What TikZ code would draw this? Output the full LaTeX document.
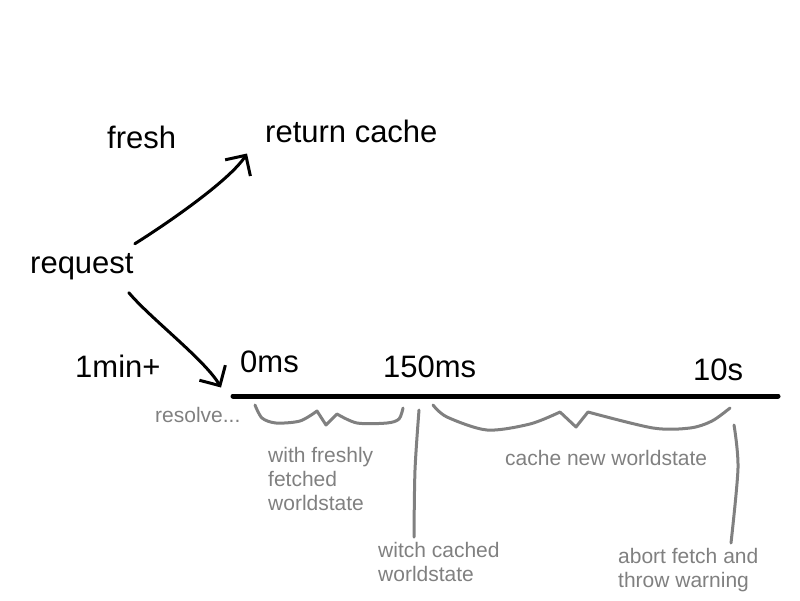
\documentclass[tikz,border=0pt]{standalone}
\usepackage{fontspec}
\setmainfont{Liberation Sans}
\usetikzlibrary{arrows.meta}
\definecolor{pencil}{RGB}{128,128,128}
\tikzset{
  big/.style={inner sep=0pt, anchor=base west, font=\fontsize{31}{31}\selectfont},
  small/.style={inner sep=0pt, text=pencil, align=left, font=\fontsize{21}{24}\selectfont},
  scribble/.style={line width=3pt, line cap=round, line join=round},
  hand/.style={scribble, -{Straight Barb[length=15pt,width=30pt,line width=3pt]}},
}
\begin{document}
\begin{tikzpicture}[x=1pt, y=-1pt]
                    \useasboundingbox (0,0) rectangle (800,600);
                    % Labels
                    \node[big] (fresh) at (107,148) {fresh};
                    \node[big] (ret) at (265,142) {return cache};
                    \node[big] (req) at (30,273) {request};
                    \node[big] (late) at (75,377) {1min+};
                    \node[big] (zero) at (240,372) {0ms};
                    \node[big] (mid) at (383,377) {150ms};
                    \node[big] (ten) at (693,380) {10s};
                    % Arrows
                    \draw[hand]
                       ([shift={(1,-9)}]req.north east)
                    .. controls (168,223) and (230,180) ..
                       ([shift={(-18,11)}]ret.south west);
                    \draw[hand]
                       ([shift={(-5,13)}]req.south east)
                    .. controls (150,318) and (205,360) ..
                       ([shift={(-19,15)}]zero.south west);
                    % Timeline
                    \draw[-, line width=5pt, line cap=round]
                       (233,396) -- (778,396);
                    % Braces
                    \draw[scribble, pencil]
                       plot[smooth, tension=0.5] coordinates {
                       (255,405) (262,418) (276,423) (300,421) (317,411)}
                    -- (326,425) -- (337,414)
                    -- plot[smooth, tension=0.5] coordinates {
                       (337,414) (357,423) (387,423) (399,419) (403,408)};
                    \draw[scribble, pencil]
                       plot[smooth, tension=0.5] coordinates {
                       (433,405) (447,417) (487,430) (530,424) (560,412)}
                    -- (576,427) -- (588,412)
                    -- plot[smooth, tension=0.5] coordinates {
                       (588,412) (653,428) (690,428) (712,421) (730,408)};
                    % Ticks
                    \draw[scribble, pencil] plot[smooth, tension=0.5] coordinates {
                       (419,410) (415,470) (414,537)};
                    \draw[scribble, pencil] plot[smooth, tension=0.5] coordinates {
                       (734,425) (738,468) (731,543)};
                    % Notes
                    \node[small, anchor=base west] (resolve) at (155,422) {resolve...};
                    \node[small, anchor=north west] (fetched) at (268,447) {with freshly\\fetched\\worldstate};
                    \node[small, anchor=base west] (store) at (505,465) {cache new worldstate};
                    \node[small, anchor=north west] (cached) at (378,542) {witch cached\\worldstate};
                    \node[small, anchor=north west] (abort) at (618,548) {abort fetch and\\throw warning};
\end{tikzpicture}
\end{document}
